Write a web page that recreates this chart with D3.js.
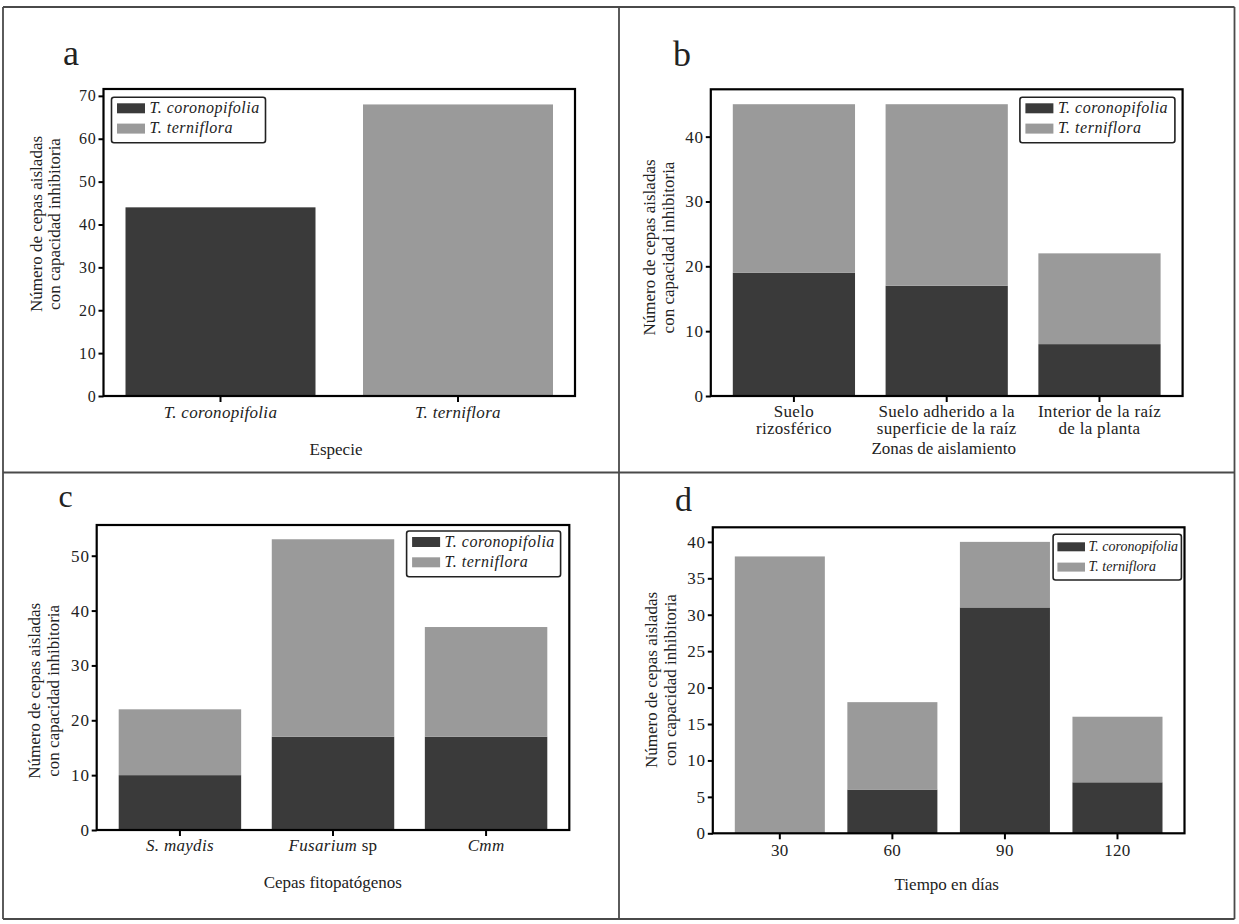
<!DOCTYPE html>
<html>
<head>
<meta charset="utf-8">
<script src="https://cdn.jsdelivr.net/npm/d3@7"></script>
<style>
  body { margin: 0; background: #fff; }
  svg { display: block; }
</style>
</head>
<body>
<div id="fig"></div>
<script>
// Series shared by all four panels
var SERIES = ["T. coronopifolia", "T. terniflora"];
var COLORS = ["#3a3a3a", "#9a9a9a"];
var FONT = "'Liberation Serif', 'Times New Roman', serif";

// a — Especie
var catsA = ["*T. coronopifolia*", "*T. terniflora*"];
var corA = [44, 0];
var terA = [0, 68];
var ticksA = [0, 10, 20, 30, 40, 50, 60, 70];

// b — Zonas de aislamiento
var catsB = ["Suelo\nrizosférico", "Suelo adherido a la\nsuperficie de la raíz", "Interior de la raíz\nde la planta"];
var corB = [19, 17, 8];
var terB = [26, 28, 14];
var ticksB = [0, 10, 20, 30, 40];

// c — Cepas fitopatógenos
var catsC = ["*S. maydis*", "*Fusarium* sp", "*Cmm*"];
var corC = [10, 17, 17];
var terC = [12, 36, 20];
var ticksC = [0, 10, 20, 30, 40, 50];

// d — Tiempo en días
var catsD = ["30", "60", "90", "120"];
var corD = [0, 6, 31, 7];
var terD = [38, 12, 9, 9];
var ticksD = [0, 5, 10, 15, 20, 25, 30, 35, 40];

var Y_TITLE = ["Número de cepas aisladas", "con capacidad inhibitoria"];

// layout of each panel (pixels)
var PANELS = [
  { letter: "a", cats: catsA, cor: corA, ter: terA, ticks: ticksA, yMax: 71.6,
    title: "Especie", frame: [103.5, 89, 575, 396],
    letterPos: [63, 65, 36], legend: [111.5, 97.3, 154, 45.4, 16],
    yTitle: [224, 41.7], tickY: 418, titlePos: [336, 455], tickFont: 16 },
  { letter: "b", cats: catsB, cor: corB, ter: terB, ticks: ticksB, yMax: 47.3,
    title: "Zonas de aislamiento", frame: [710.8, 89.3, 1182.6, 396],
    letterPos: [673, 66, 36], legend: [1019.9, 97.3, 155, 45.4, 16],
    yTitle: [247.5, 655], tickY: 417, titlePos: [943.7, 453.5], tickFont: 17 },
  { letter: "c", cats: catsC, cor: corC, ter: terC, ticks: ticksC, yMax: 55.6,
    title: "Cepas fitopatógenos", frame: [96.7, 525, 569.3, 830],
    letterPos: [58.4, 507, 32], legend: [406.6, 531, 154, 45.7, 16],
    yTitle: [690.8, 40], tickY: 851, titlePos: [332.8, 888], tickFont: 17 },
  { letter: "d", cats: catsD, cor: corD, ter: terD, ticks: ticksD, yMax: 42,
    title: "Tiempo en días", frame: [712.8, 527.3, 1184.5, 833.3],
    letterPos: [675, 511, 34], legend: [1053.1, 534.3, 128.3, 45.7, 14],
    yTitle: [680, 657], tickY: 856, titlePos: [946.7, 890], tickFont: 17 }
];

var W = 1239, H = 924;
var svg = d3.select("#fig").append("svg").attr("width", W).attr("height", H);

// text helper: inline serif font so nothing falls back to sans
function label(sel, size) {
  return sel.append("text")
    .style("font-family", FONT)
    .style("font-size", size + "px")
    .style("fill", "#222");
}

// writes "*italic* normal" runs into a text element
function richText(sel, str) {
  str.split(/(\*[^*]+\*)/).filter(function(s) { return s.length; }).forEach(function(part) {
    var it = part.charAt(0) === "*";
    sel.append("tspan")
      .style("font-style", it ? "italic" : "normal")
      .text(it ? part.slice(1, -1) : part);
  });
}

function drawPanel(p) {
  var x0 = p.frame[0], y0 = p.frame[1], x1 = p.frame[2], y1 = p.frame[3];
  var g = svg.append("g");

  var x = d3.scaleBand().domain(p.cats).range([x0 + 22, x1 - 22])
    .paddingInner(0.2).paddingOuter(0);
  var y = d3.scaleLinear().domain([0, p.yMax]).range([y1, y0]);

  var rows = p.cats.map(function(c, i) { return { cat: c, cor: p.cor[i], ter: p.ter[i] }; });
  var stacked = d3.stack().keys(["cor", "ter"])(rows);

  g.selectAll(".layer").data(stacked).enter().append("g")
    .attr("fill", function(d, i) { return COLORS[i]; })
    .selectAll("rect").data(function(d) { return d.filter(function(s) { return s[1] > s[0]; }); })
    .enter().append("rect")
    .attr("x", function(d) { return x(d.data.cat); })
    .attr("width", x.bandwidth())
    .attr("y", function(d) { return y(d[1]); })
    .attr("height", function(d) { return y(d[0]) - y(d[1]); });

  // y axis
  var yAxis = g.append("g").attr("transform", "translate(" + x0 + ",0)")
    .call(d3.axisLeft(y).tickValues(p.ticks).tickSize(5).tickPadding(2));
  yAxis.select(".domain").remove();
  yAxis.selectAll("line").attr("stroke", "#000").attr("stroke-width", 2);
  yAxis.selectAll("text")
    .style("font-family", FONT).style("font-size", p.tickFont + "px")
    .style("fill", "#222").style("letter-spacing", "0.8px");

  // x axis ticks
  var xAxis = g.append("g").attr("transform", "translate(0," + y1 + ")")
    .call(d3.axisBottom(x).tickSize(6).tickFormat(""));
  xAxis.select(".domain").remove();
  xAxis.selectAll("line").attr("stroke", "#000").attr("stroke-width", 2);

  // x tick labels (may be two lines, italic runs)
  p.cats.forEach(function(c) {
    c.split("\n").forEach(function(line, li) {
      var t = label(g, 17)
        .attr("x", x(c) + x.bandwidth() / 2)
        .attr("y", p.tickY + li * 17)
        .attr("text-anchor", "middle")
        .style("letter-spacing", "0.3px");
      richText(t, line);
    });
  });

  // frame
  g.append("rect")
    .attr("x", x0).attr("y", y0).attr("width", x1 - x0).attr("height", y1 - y0)
    .attr("fill", "none").attr("stroke", "#000").attr("stroke-width", 2.2);

  // axis titles
  label(g, 17).attr("x", p.titlePos[0]).attr("y", p.titlePos[1])
    .attr("text-anchor", "middle").text(p.title);

  var yt = label(g, 17)
    .attr("transform", "translate(" + p.yTitle[1] + "," + p.yTitle[0] + ") rotate(-90)")
    .attr("text-anchor", "middle");
  Y_TITLE.forEach(function(line, i) {
    yt.append("tspan").attr("x", 0).attr("dy", i ? 18.5 : 0).text(line);
  });

  // panel letter
  label(g, p.letterPos[2]).attr("x", p.letterPos[0]).attr("y", p.letterPos[1]).text(p.letter);

  // legend
  var lx = p.legend[0], ly = p.legend[1], lw = p.legend[2], lh = p.legend[3], fs = p.legend[4];
  var small = fs < 15;
  var lg = g.append("g");
  lg.append("rect").attr("x", lx).attr("y", ly).attr("width", lw).attr("height", lh)
    .attr("rx", 2.5).attr("fill", "#fff").attr("stroke", "#222").attr("stroke-width", 1.6);
  SERIES.forEach(function(name, i) {
    var sy = ly + (small ? 8 : 6) + i * 20.3;
    lg.append("rect").attr("x", lx + (small ? 4.3 : 5.5)).attr("y", sy)
      .attr("width", small ? 27.6 : 28).attr("height", small ? 9 : 10).attr("fill", COLORS[i]);
    label(lg, fs).attr("x", lx + (small ? 35.5 : 38)).attr("y", sy + (small ? 8.7 : 9.5))
      .style("font-style", "italic").style("letter-spacing", small ? "0px" : "0.5px")
      .text(name);
  });
}

PANELS.forEach(drawPanel);

// outer panel borders
var BORDERS = [
  [3, 7, 1234.5, 7], [3, 7, 3, 919], [1234.5, 7, 1234.5, 919], [3, 919, 1234.5, 919],
  [619, 7, 619, 919], [3, 472.5, 1234.5, 472.5]
];
svg.append("g").selectAll("line").data(BORDERS).enter().append("line")
  .attr("x1", function(d) { return d[0]; }).attr("y1", function(d) { return d[1]; })
  .attr("x2", function(d) { return d[2]; }).attr("y2", function(d) { return d[3]; })
  .attr("stroke", "#4a4a4a").attr("stroke-width", 1.8);
</script>
</body>
</html>
